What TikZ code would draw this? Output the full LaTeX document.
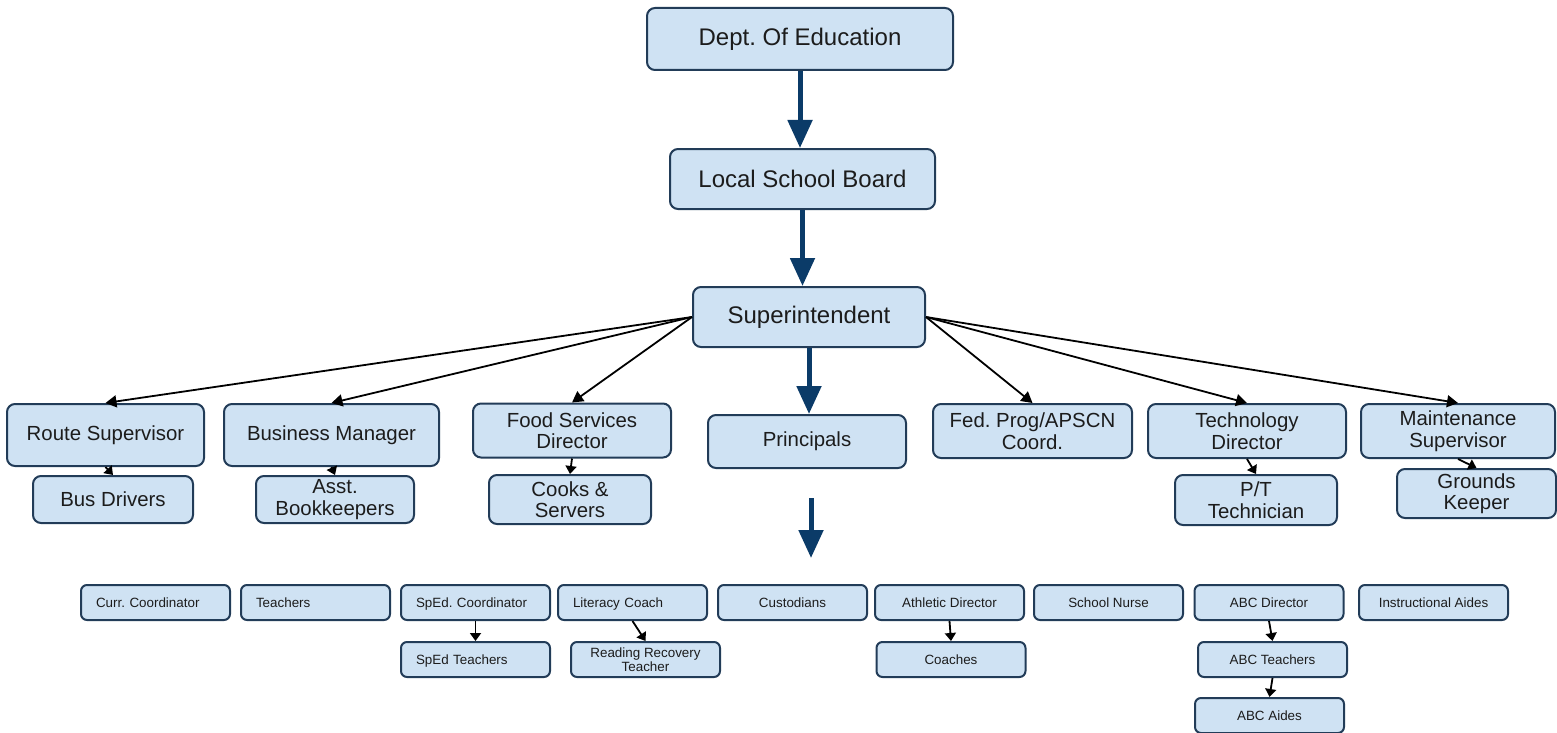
\documentclass[tikz,border=0pt]{standalone}
\usepackage{fontspec}
\setmainfont{Liberation Sans}
\usepackage{tikz}
\usetikzlibrary{arrows.meta}

\definecolor{boxfill}{HTML}{CFE2F3}
\definecolor{boxline}{HTML}{223C58}
\definecolor{bigarrow}{HTML}{0B3B68}
\definecolor{ink}{HTML}{1C1C1C}

\tikzset{
    box/.style={draw=boxline, fill=boxfill, text=ink, line width=2pt, rounded corners=8pt,
        inner sep=0pt, align=center, font=\fontsize{20.4}{21.5}\selectfont},
    topbox/.style={box, font=\fontsize{24}{28}\selectfont},
    staffbox/.style={box, rounded corners=6pt, minimum width=149pt, minimum height=35pt,
        font=\fontsize{13.4}{14}\selectfont},
    smallbox/.style={staffbox, text height=9.6pt, text depth=0.4pt},
    leftbox/.style={smallbox, align=left, text width=119pt, inner xsep=15pt},
    thick arrow/.style={draw=bigarrow, line width=5pt, -{Triangle[width=24pt,length=28pt]}},
    thin arrow/.style={draw=black, line width=1.8pt, -{Triangle[width=12pt,length=11pt]}},
    short arrow/.style={thin arrow, -{Triangle[width=11pt,length=8pt]}}
}

\begin{document}
\frenchspacing
\begin{tikzpicture}[x=1pt, y=-1pt]
    \useasboundingbox (0,0) rectangle (1557,733);

    % top of the chart
    \node[topbox, minimum width=306pt, minimum height=62pt] (dept) at (800,39) {Dept. Of Education};
    \node[topbox, minimum width=265pt, minimum height=60pt] (board) at (802.5,179) {Local School Board};
    \node[topbox, minimum width=232pt, minimum height=60pt] (super) at (809,317) {Superintendent};

    % directors
    \node[box, minimum width=197pt, minimum height=62pt] (route) at (105.5,435) {Route Supervisor};
    \node[box, minimum width=215pt, minimum height=62pt] (bizman) at (331.5,435) {Business Manager};
    \node[box, minimum width=198pt, minimum height=54pt] (food) at (572,430.5) {Food Services\\Director};
    \node[box, minimum width=198pt, minimum height=53pt] (princ) at (807,441.5) {Principals};
    \node[box, minimum width=199pt, minimum height=54pt] (fedprog) at (1032.5,431) {Fed. Prog/APSCN\\Coord.};
    \node[box, minimum width=198pt, minimum height=54pt] (techdir) at (1247,431) {Technology\\Director};
    \node[box, minimum width=194pt, minimum height=54pt] (maint) at (1458,431) {Maintenance\\Supervisor};

    \node[box, minimum width=160pt, minimum height=47pt] (busdrv) at (113,499.5) {Bus Drivers};
    \node[box, minimum width=158pt, minimum height=47pt] (bookkeep) at (335,499.5) {Asst.\\Bookkeepers};
    \node[box, minimum width=162pt, minimum height=49pt] (cooks) at (570,499.5) {Cooks \&\\Servers};
    \node[box, minimum width=162pt, minimum height=50pt] (pttech) at (1256,500) {P/T\\Technician};
    \node[box, minimum width=159pt, minimum height=49pt] (grounds) at (1476.5,493.5) {Grounds\\Keeper};

    % school staff
    \node[leftbox] (curr) at (155.5,602.5) {Curr. Coordinator};
    \node[leftbox] (teach) at (315.5,602.5) {Teachers};
    \node[leftbox] (spedco) at (475.5,602.5) {SpEd. Coordinator};
    \node[leftbox] (litco) at (632.5,602.5) {Literacy Coach};
    \node[smallbox] (cust) at (792.5,602.5) {Custodians};
    \node[smallbox] (athdir) at (949.5,602.5) {Athletic Director};
    \node[smallbox] (nurse) at (1108.5,602.5) {School Nurse};
    \node[smallbox] (abcdir) at (1269,602.5) {ABC Director};
    \node[smallbox] (instr) at (1433.5,602.5) {Instructional Aides};

    \node[leftbox] (spedteach) at (475.5,659.5) {SpEd Teachers};
    \node[staffbox] (readrec) at (645.5,659.5) {Reading Recovery\\Teacher};
    \node[smallbox] (coaches) at (951,659.5) {Coaches};
    \node[smallbox] (abcteach) at (1272.5,659.5) {ABC Teachers};
    \node[smallbox] (abcaides) at (1269.5,715.5) {ABC Aides};

    \coordinate (gap1) at (811,498);
    \coordinate (gap2) at (811,558);

    % big arrows
    \draw[thick arrow] (dept.south) -- (dept.south |- board.north);
    \draw[thick arrow] (board.south) -- (board.south |- super.north);
    \draw[thick arrow] (super.south) -- (super.south |- princ.north);
    \draw[thick arrow] (gap1) -- (gap2);

    % superintendent
    \draw[thin arrow] (super.west) -- (route.north);
    \draw[thin arrow] (super.west) -- (bizman.north);
    \draw[thin arrow] (super.west) -- (food.north);
    \draw[thin arrow] (super.east) -- (fedprog.north);
    \draw[thin arrow] (super.east) -- (techdir.north);
    \draw[thin arrow] (super.east) -- (maint.north);

    \draw[short arrow] (route.south) -- (busdrv.north);
    \draw[short arrow] (bizman.south) -- (bookkeep.north);
    \draw[short arrow] (food.south) -- (cooks.north);
    \draw[short arrow] (techdir.south) -- (pttech.north);
    \draw[short arrow] (maint.south) -- (grounds.north);

    \draw[short arrow] (spedco.south) -- (spedteach.north);
    \draw[short arrow] (litco.south) -- (readrec.north);
    \draw[short arrow] (athdir.south) -- (coaches.north);
    \draw[short arrow] (abcdir.south) -- (abcteach.north);
    \draw[short arrow] (abcteach.south) -- (abcaides.north);
\end{tikzpicture}
\end{document}
